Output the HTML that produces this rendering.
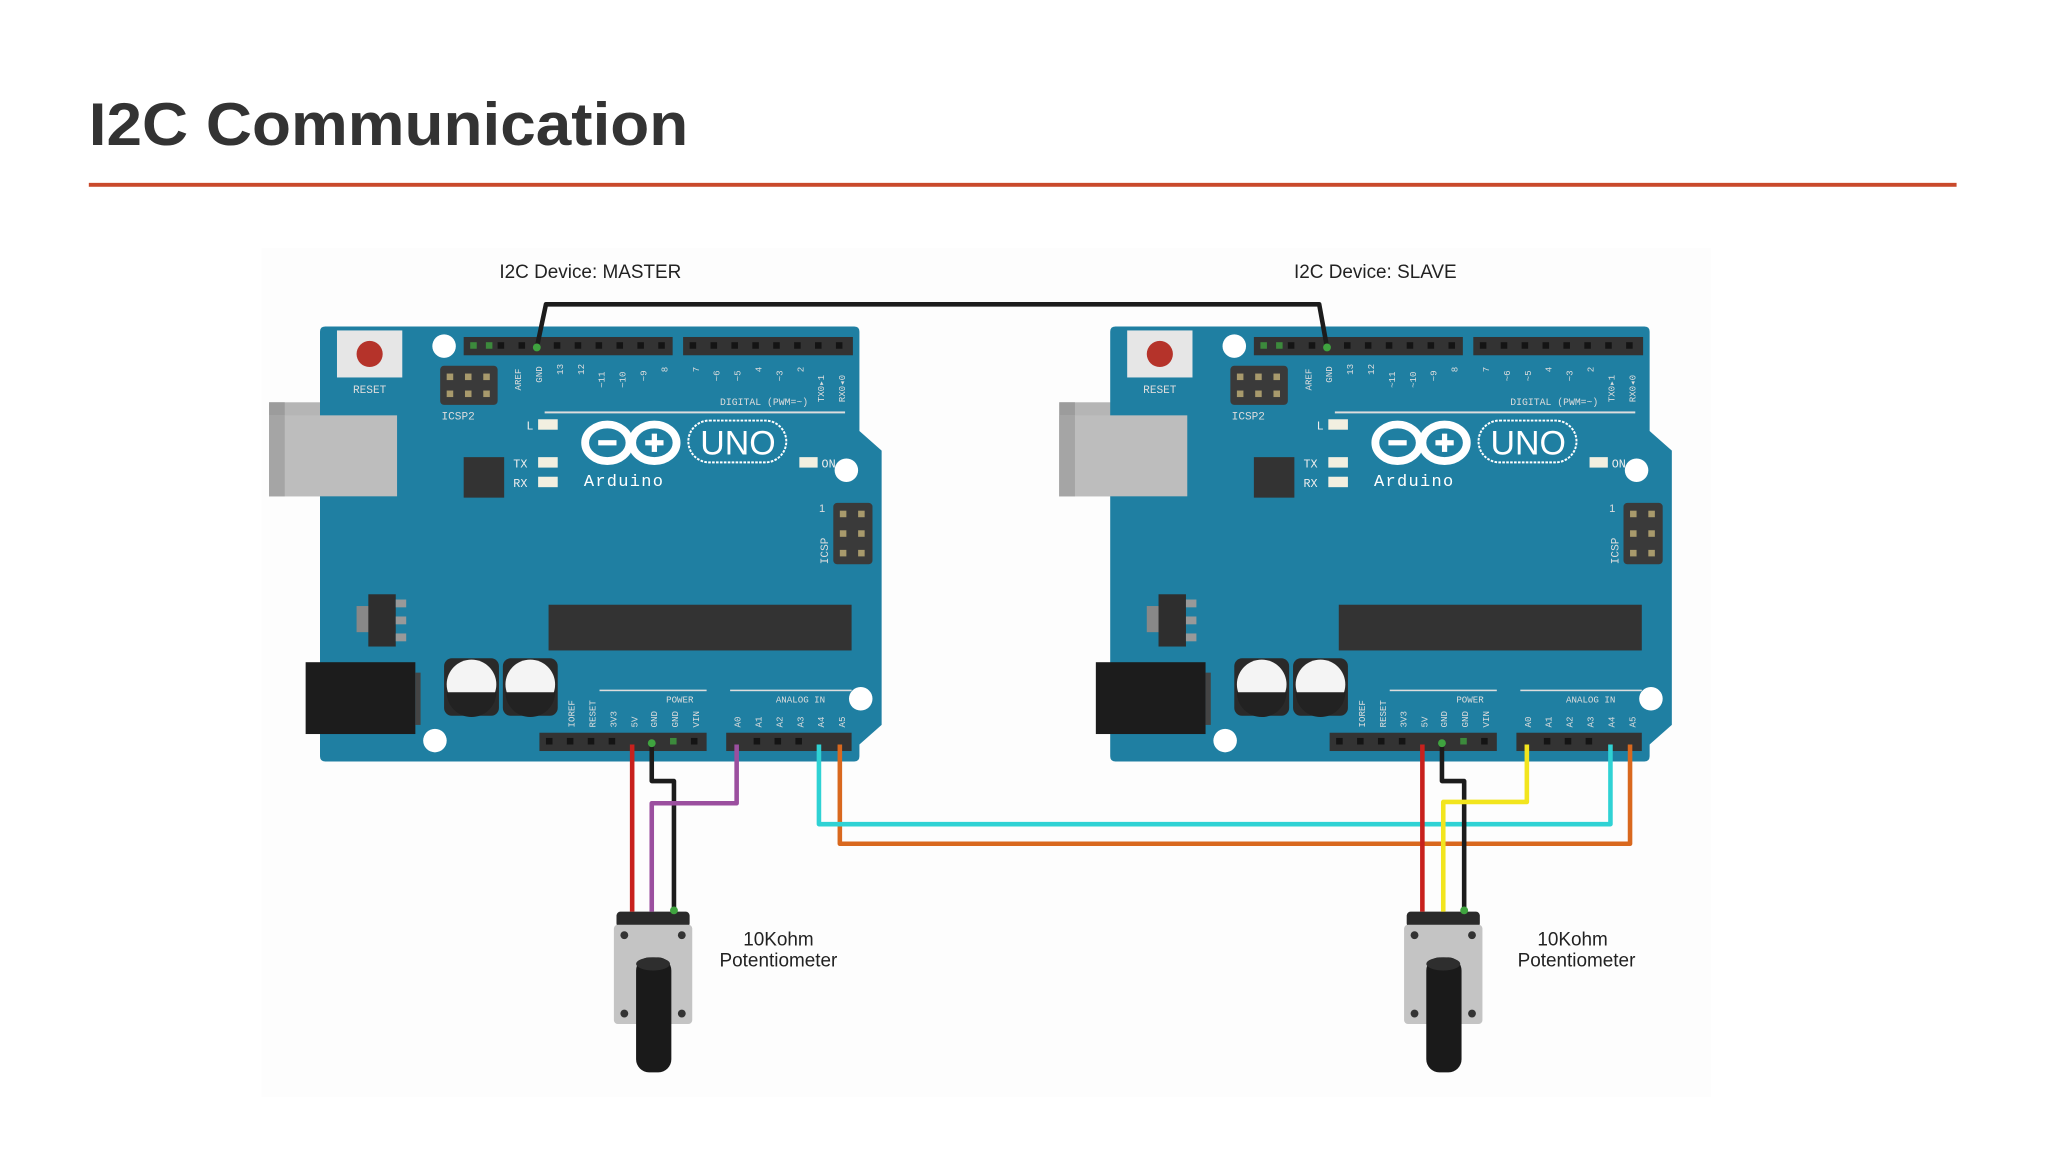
<!DOCTYPE html>
<html><head><meta charset="utf-8"><style>
html,body{margin:0;padding:0;background:#fff;}
svg{display:block;}
</style></head><body>
<svg width="2048" height="1152" viewBox="0 0 1568 882" preserveAspectRatio="none" xmlns="http://www.w3.org/2000/svg" font-family="Liberation Sans, sans-serif">
<rect width="1568" height="882" fill="#fff"/>
<text x="68" y="111" font-size="46" font-weight="bold" fill="#333" textLength="459" lengthAdjust="spacingAndGlyphs">I2C Communication</text>
<rect x="68" y="140" width="1430" height="3" fill="#c9492b"/>
<rect x="200" y="190" width="1110" height="650" fill="#fdfdfd"/>
<text x="452" y="213" font-size="14.5" text-anchor="middle" fill="#222">I2C Device: MASTER</text>
<text x="1053" y="213" font-size="14.5" text-anchor="middle" fill="#222">I2C Device: SLAVE</text>
<defs>
<g id="board">
  <rect x="206" y="308" width="98" height="72" fill="#b5b5b5"/>
  <rect x="206" y="308" width="12" height="72" fill="#9c9c9c"/>
  <path d="M249,250 H654 Q658,250 658,254 V330 L675,345 V555 L658,570 V579 Q658,583 654,583 H249 Q245,583 245,579 V254 Q245,250 249,250 Z" fill="#1f7fa2"/>
  <rect x="206" y="318" width="98" height="62" fill="#bdbdbd"/>
  <rect x="206" y="318" width="12" height="62" fill="#a5a5a5"/>
  <rect x="258" y="253" width="50" height="36" fill="#e6e6e6"/>
  <circle cx="283" cy="271" r="10" fill="#b5332a"/>
  <text x="283" y="301" font-size="8.5" fill="#ddd" text-anchor="middle" font-family="Liberation Mono, monospace">RESET</text>
  <circle cx="340" cy="265" r="9" fill="#fff"/>
  <circle cx="648" cy="360" r="9" fill="#fff"/>
  <circle cx="659" cy="535" r="9" fill="#fff"/>
  <circle cx="333" cy="567" r="9" fill="#fff"/>
  <rect x="337" y="280" width="44" height="30" rx="3" fill="#3a3a3a"/>
  <g fill="#a89a6c"><rect x="342" y="286" width="5" height="5"/><rect x="356" y="286" width="5" height="5"/><rect x="370" y="286" width="5" height="5"/><rect x="342" y="299" width="5" height="5"/><rect x="356" y="299" width="5" height="5"/><rect x="370" y="299" width="5" height="5"/></g>
  <text x="338" y="321" font-size="8.5" fill="#ddd" font-family="Liberation Mono, monospace">ICSP2</text>
  <rect x="355" y="350" width="31" height="31" fill="#333"/>
  <rect x="412" y="321" width="15" height="8" fill="#f2efe0"/>
  <rect x="412" y="350" width="15" height="8" fill="#f2efe0"/>
  <rect x="412" y="365" width="15" height="8" fill="#f2efe0"/>
  <text x="403" y="329" font-size="9" fill="#eee" font-family="Liberation Mono, monospace">L</text>
  <text x="393" y="358" font-size="9" fill="#eee" font-family="Liberation Mono, monospace">TX</text>
  <text x="393" y="373" font-size="9" fill="#eee" font-family="Liberation Mono, monospace">RX</text>
  <ellipse cx="465" cy="339" rx="17" ry="14" fill="none" stroke="#fff" stroke-width="6"/>
  <ellipse cx="501" cy="339" rx="17" ry="14" fill="none" stroke="#fff" stroke-width="6"/>
  <rect x="458" y="337" width="14" height="4" fill="#fff"/>
  <rect x="494" y="337" width="14" height="4" fill="#fff"/>
  <rect x="499" y="332" width="4" height="14" fill="#fff"/>
  <rect x="527" y="322" width="75" height="32" rx="16" fill="none" stroke="#fff" stroke-width="1.5" stroke-dasharray="2 1"/>
  <text x="565" y="348" font-size="26" fill="#fff" text-anchor="middle">UNO</text>
  <text x="447" y="372" font-size="13" fill="#fff" font-family="Liberation Mono, monospace" letter-spacing="1">Arduino</text>
  <rect x="612" y="350" width="14" height="8" fill="#f2efe0"/>
  <text x="629" y="358" font-size="9" fill="#eee" font-family="Liberation Mono, monospace">ON</text>
  <rect x="638" y="385" width="30" height="47" rx="3" fill="#3a3a3a"/>
  <g fill="#a89a6c"><rect x="643" y="391" width="5" height="5"/><rect x="657" y="391" width="5" height="5"/><rect x="643" y="406" width="5" height="5"/><rect x="657" y="406" width="5" height="5"/><rect x="643" y="421" width="5" height="5"/><rect x="657" y="421" width="5" height="5"/></g>
  <text transform="translate(634,432) rotate(-90)" font-size="8.5" fill="#ddd" font-family="Liberation Mono, monospace">ICSP</text>
  <text x="627" y="392" font-size="8.5" fill="#ddd">1</text>
  <rect x="273" y="464" width="12" height="20" fill="#888"/>
  <rect x="282" y="455" width="21" height="40" fill="#2e2e2e"/>
  <rect x="303" y="459" width="8" height="6" fill="#999"/><rect x="303" y="472" width="8" height="6" fill="#999"/><rect x="303" y="485" width="8" height="6" fill="#999"/>
  <rect x="420" y="463" width="232" height="35" fill="#333"/>
  <rect x="234" y="507" width="84" height="55" fill="#1c1c1c"/>
  <rect x="318" y="515" width="4" height="40" fill="#444"/>
  <rect x="340" y="504" width="42" height="44" rx="6" fill="#2a2a2a"/>
  <rect x="385" y="504" width="42" height="44" rx="6" fill="#2a2a2a"/>
  <circle cx="361" cy="524" r="19" fill="#f4f4f4"/>
  <circle cx="406" cy="524" r="19" fill="#f4f4f4"/>
  <path d="M342,530 A19,19 0 0 0 380,530 Z" fill="#222"/>
  <path d="M387,530 A19,19 0 0 0 425,530 Z" fill="#222"/>
  <rect x="355" y="258" width="160" height="14" fill="#333"/>
  <rect x="523" y="258" width="130" height="14" fill="#333"/>
  <rect x="413" y="561" width="128" height="14" fill="#333"/>
  <rect x="556" y="561" width="96" height="14" fill="#333"/>
  <g fill="#141414">
   <rect x="381" y="262" width="5" height="5"/><rect x="397" y="262" width="5" height="5"/><rect x="424" y="262" width="5" height="5"/><rect x="440" y="262" width="5" height="5"/><rect x="456" y="262" width="5" height="5"/><rect x="472" y="262" width="5" height="5"/><rect x="488" y="262" width="5" height="5"/><rect x="504" y="262" width="5" height="5"/>
   <rect x="528" y="262" width="5" height="5"/><rect x="544" y="262" width="5" height="5"/><rect x="560" y="262" width="5" height="5"/><rect x="576" y="262" width="5" height="5"/><rect x="592" y="262" width="5" height="5"/><rect x="608" y="262" width="5" height="5"/><rect x="624" y="262" width="5" height="5"/><rect x="640" y="262" width="5" height="5"/>
   <rect x="418" y="565" width="5" height="5"/><rect x="434" y="565" width="5" height="5"/><rect x="450" y="565" width="5" height="5"/><rect x="466" y="565" width="5" height="5"/><rect x="529" y="565" width="5" height="5"/>
   <rect x="577" y="565" width="5" height="5"/><rect x="593" y="565" width="5" height="5"/><rect x="609" y="565" width="5" height="5"/>
  </g>
  <g fill="#3c8a3c"><rect x="360" y="262" width="5" height="5"/><rect x="372" y="262" width="5" height="5"/><rect x="513" y="565" width="5" height="5"/></g>
  <rect x="417" y="315" width="230" height="1.5" fill="#ddd"/>
  <text x="585" y="310" font-size="7.5" fill="#ddd" text-anchor="middle" font-family="Liberation Mono, monospace">DIGITAL (PWM=~)</text>
  <g font-size="7" fill="#ddd" font-family="Liberation Mono, monospace">
   <text transform="translate(399,299) rotate(-90)">AREF</text>
   <text transform="translate(415,293) rotate(-90)">GND</text>
   <text transform="translate(431,287) rotate(-90)">13</text>
   <text transform="translate(447,287) rotate(-90)">12</text>
   <text transform="translate(463,297) rotate(-90)">~11</text>
   <text transform="translate(479,297) rotate(-90)">~10</text>
   <text transform="translate(495,292) rotate(-90)">~9</text>
   <text transform="translate(511,285) rotate(-90)">8</text>
   <text transform="translate(535,285) rotate(-90)">7</text>
   <text transform="translate(551,292) rotate(-90)">~6</text>
   <text transform="translate(567,292) rotate(-90)">~5</text>
   <text transform="translate(583,285) rotate(-90)">4</text>
   <text transform="translate(599,292) rotate(-90)">~3</text>
   <text transform="translate(615,285) rotate(-90)">2</text>
   <text transform="translate(631,308) rotate(-90)">TX0▸1</text>
   <text transform="translate(647,308) rotate(-90)">RX0◂0</text>
   <text transform="translate(440,557) rotate(-90)">IOREF</text>
   <text transform="translate(456,557) rotate(-90)">RESET</text>
   <text transform="translate(472,557) rotate(-90)">3V3</text>
   <text transform="translate(488,557) rotate(-90)">5V</text>
   <text transform="translate(503,557) rotate(-90)">GND</text>
   <text transform="translate(519,557) rotate(-90)">GND</text>
   <text transform="translate(535,557) rotate(-90)">VIN</text>
   <text transform="translate(567,557) rotate(-90)">A0</text>
   <text transform="translate(583,557) rotate(-90)">A1</text>
   <text transform="translate(599,557) rotate(-90)">A2</text>
   <text transform="translate(615,557) rotate(-90)">A3</text>
   <text transform="translate(631,557) rotate(-90)">A4</text>
   <text transform="translate(647,557) rotate(-90)">A5</text>
   <text x="510" y="538">POWER</text>
   <text x="594" y="538">ANALOG IN</text>
  </g>
  <rect x="459" y="528" width="82" height="1.2" fill="#ddd"/>
  <rect x="559" y="528" width="93" height="1.2" fill="#ddd"/>
</g>
<g id="pot">
  <rect x="472" y="698" width="56" height="12" rx="3" fill="#2a2a2a"/>
  <rect x="470" y="708" width="60" height="76" rx="3" fill="#c4c4c4"/>
  <circle cx="478" cy="716" r="3" fill="#333"/><circle cx="522" cy="716" r="3" fill="#333"/>
  <circle cx="478" cy="776" r="3" fill="#333"/><circle cx="522" cy="776" r="3" fill="#333"/>
  <rect x="487" y="733" width="27" height="88" rx="10" fill="#1a1a1a"/>
  <ellipse cx="500" cy="738" rx="13" ry="5" fill="#2e2e2e"/>
</g>
</defs>
<use href="#board"/>
<use href="#board" transform="translate(605,0)"/>
<use href="#pot"/>
<use href="#pot" transform="translate(605,0)"/>
<g fill="none" stroke-width="3.5" stroke-linejoin="round">
  <path d="M411,266 L418,233 H1010 L1016,266" stroke="#1c1c1c"/>
  <path d="M484,570 V698" stroke="#c8211d"/>
  <path d="M499,570 V598 H516 V698" stroke="#1c1c1c"/>
  <path d="M564,570 V615 H499 V698" stroke="#9b4f9f"/>
  <path d="M643,570 V646 H1248 V570" stroke="#d9681e"/>
  <path d="M627,570 V631 H1233 V570" stroke="#2fd2d4"/>
  <path d="M1089,570 V698" stroke="#c8211d"/>
  <path d="M1104,570 V598 H1121 V698" stroke="#1c1c1c"/>
  <path d="M1169,570 V614 H1105 V698" stroke="#f2e51e"/>
</g>
<g fill="#3fa33f"><circle cx="411" cy="266" r="3"/><circle cx="1016" cy="266" r="3"/><circle cx="499" cy="569" r="3"/><circle cx="1104" cy="569" r="3"/><circle cx="516" cy="697" r="3"/><circle cx="1121" cy="697" r="3"/></g>
<text x="596" y="724" font-size="14.5" text-anchor="middle" fill="#222">10Kohm</text>
<text x="596" y="740" font-size="14.5" text-anchor="middle" fill="#222">Potentiometer</text>
<text x="1204" y="724" font-size="14.5" text-anchor="middle" fill="#222">10Kohm</text>
<text x="1207" y="740" font-size="14.5" text-anchor="middle" fill="#222">Potentiometer</text>
</svg>
</body></html>
